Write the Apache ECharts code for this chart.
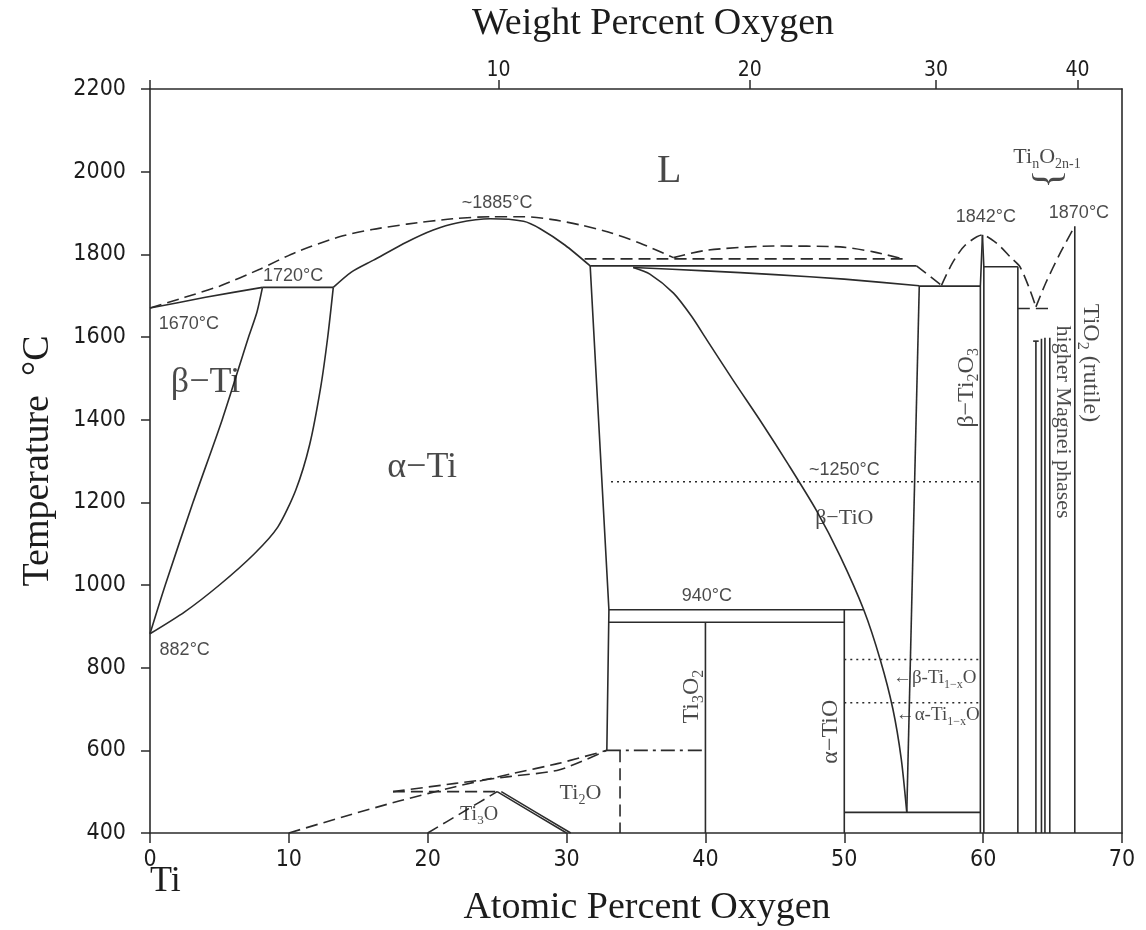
<!DOCTYPE html>
<html>
<head>
<meta charset="utf-8">
<script src="https://cdn.jsdelivr.net/npm/echarts@6/dist/echarts.min.js"></script>
<style>
  html, body { margin: 0; padding: 0; background: #fff; }
  #chart { width: 1146px; height: 930px; }
</style>
</head>
<body>
<div id="chart"></div>
<script>
// all points: [atomic % O, temperature °C]
const betaSolidus = [[0, 1670], [2, 1683], [4, 1696], [6, 1708], [8.1, 1720]];
const liquidusTi = [[0, 1670], [2.5, 1696], [5, 1723], [7.9, 1764], [10.5, 1805], [13.7, 1843], [16, 1860], [18.5, 1873], [21.8, 1886], [24.5, 1891], [27, 1891], [29, 1884], [31, 1871], [33, 1854], [35.3, 1827], [37.7, 1792]];
const peritectic1720 = [[8.1, 1720], [13.2, 1720]];
const betaTransus = [[0, 882], [1.1, 1000], [3.1, 1200], [5.2, 1400], [7.1, 1600], [7.7, 1660], [8.1, 1720]];
const alphaTransus = [[0, 882], [2.5, 935], [5, 1000], [7.5, 1075], [9.2, 1140], [10.5, 1230], [11.5, 1340], [12.3, 1480], [12.8, 1600], [13.2, 1720]];
const alphaSolidus = [[13.2, 1720], [14.5, 1757], [16.1, 1786], [18.5, 1830], [20.4, 1859], [22.1, 1876], [24.5, 1886], [26.9, 1880], [28.1, 1862], [29.9, 1822], [31.7, 1772]];
const alphaSolvus = [[31.7, 1772], [33.05, 940], [32.9, 600]];
const peritectic1770 = [[31.7, 1772], [55.2, 1772]];
const monotectic1790 = [[31.3, 1789], [54.2, 1789]];
const gapDome = [[37.7, 1792], [40.1, 1810], [44.9, 1820], [49.7, 1818], [52.1, 1806], [54.2, 1789]];
const betaTiOSolidus = [[34.8, 1768], [40, 1760], [45, 1751], [50, 1740], [55.4, 1724]];
const betaTiOLeft = [[34.8, 1768], [36, 1752], [37.7, 1706], [39, 1650], [40.1, 1593], [42, 1495], [44, 1395], [46, 1290], [48, 1180], [49.7, 1070], [51.4, 940], [52.6, 818], [53.5, 700], [54.1, 580], [54.5, 450]];
const betaTiORight = [[55.4, 1724], [54.5, 450]];
const liquidusMid = [[55.2, 1772], [57.0, 1725]];
const eutectic1723 = [[55.4, 1723], [59.8, 1723]];
const ti2o3Left = [[59.8, 400], [59.8, 1723], [59.95, 1847]];
const ti2o3Right = [[60.05, 400], [60.05, 1770], [59.95, 1847]];
const liquidusTi2O3 = [[57.0, 1725], [57.8, 1780], [58.7, 1822], [59.95, 1847], [61, 1826], [62, 1792], [62.65, 1770], [63.3, 1720], [63.8, 1673]];
const liquidusTiO2 = [[63.8, 1673], [64.5, 1730], [65.5, 1800], [66.6, 1868]];
const peritectic1770R = [[60.05, 1770], [62.5, 1770]];
const phase625 = [[62.5, 1770], [62.5, 400]];
const eutectic1670 = [[62.5, 1669], [65.0, 1669]];
const magneliA = [[63.8, 1590], [63.8, 400]];
const magneliCap = [[63.6, 1590], [64.0, 1590]];
const magneliB = [[64.2, 1596], [64.2, 400]];
const magneliC = [[64.45, 1598], [64.45, 400]];
const magneliD = [[64.8, 1598], [64.8, 400]];
const rutile = [[66.6, 1868], [66.6, 400]];
const plateau940 = [[33.05, 940], [51.4, 940]];
const plateau910 = [[33.05, 910], [50, 910]];
const ti3o2Line = [[40, 910], [40, 400]];
const alphaTiOLine = [[50, 940], [50, 400]];
const eutectoid450 = [[50, 450], [59.8, 450]];
const order600 = [[32.9, 600], [40, 600]];
const ti2oBound = [[33.85, 600], [33.85, 400]];
const orderUpper = [[10, 400], [14, 440], [18, 478], [22, 512], [26, 543], [29.5, 569], [32.9, 600]];
const orderLower = [[17.5, 500], [22, 520], [26, 537], [29.5, 553], [32.9, 600]];
const order500 = [[17.5, 500], [25, 500]];
const ti3oLeft = [[20, 400], [22.5, 450], [25, 500]];
const ti3oRight = [[25, 500], [27.5, 450], [30, 400]];
const ti3oRight2 = [[25.3, 500], [27.8, 450], [30.3, 400]];
const dotted1250 = [[33.2, 1250], [59.8, 1250]];
const dotted820 = [[50, 820], [59.8, 820]];
const dotted715 = [[50, 715], [59.8, 715]];

// top axis: weight % O ticks placed at their atomic % position
const wtTickPos = [25.1, 43.2, 56.6, 66.8];
const wtTickLabels = ['10', '20', '30', '40'];

// annotations: [text, at% O, T, kind]
const notes = [
  ['L', 37.4, 2000, 'big'],
  ['β−Ti', 4.0, 1489, 'phase'],
  ['α−Ti', 19.6, 1285, 'phase'],
  ['β−TiO', 50, 1162, 'small'],
  ['Ti_{3}O_{2}', 39.0, 730, 'vert'],
  ['α−TiO', 49.0, 645, 'vert'],
  ['Ti_{2}O', 31.0, 497, 'small'],
  ['Ti_{3}O', 23.7, 445, 'tiny'],
  ['β−Ti_{2}O_{3}', 58.8, 1477, 'vert'],
  ['TiO_{2} (rutile)', 67.7, 1537, 'vertDown'],
  ['higher Magnei phases', 65.7, 1394, 'vertDownSmall'],
  ['Ti_{n}O_{2n-1}', 64.6, 2035, 'small'],
  ['}', 64.6, 1982, 'brace'],
  ['1670°C', 2.8, 1631, 'temp'],
  ['1720°C', 10.3, 1748, 'temp'],
  ['~1885°C', 25.0, 1923, 'temp'],
  ['882°C', 2.5, 843, 'temp'],
  ['940°C', 40.1, 973, 'temp'],
  ['~1250°C', 50, 1278, 'temp'],
  ['1842°C', 60.2, 1891, 'temp'],
  ['1870°C', 66.9, 1899, 'temp'],
  ['←β-Ti_{1−x}O', 53.5, 775, 'arrow'],
  ['←α-Ti_{1−x}O', 53.7, 685, 'arrow']
];

const curves = [
  [betaSolidus, 'solid'], [liquidusTi, 'dash'], [peritectic1720, 'solid'],
  [betaTransus, 'curve'], [alphaTransus, 'curve'], [alphaSolidus, 'curve'],
  [alphaSolvus, 'solid'], [peritectic1770, 'solid'], [monotectic1790, 'dash'],
  [gapDome, 'dash'], [betaTiOSolidus, 'curve'], [betaTiOLeft, 'curve'],
  [betaTiORight, 'solid'], [liquidusMid, 'dash'], [eutectic1723, 'solid'],
  [ti2o3Left, 'solid'], [ti2o3Right, 'solid'], [liquidusTi2O3, 'dash'],
  [liquidusTiO2, 'dash'], [peritectic1770R, 'solid'], [phase625, 'solid'],
  [eutectic1670, 'dash'], [magneliA, 'solid'], [magneliCap, 'solid'],
  [magneliB, 'solid'], [magneliC, 'solid'], [magneliD, 'solid'], [rutile, 'solid'],
  [plateau940, 'solid'], [plateau910, 'solid'], [ti3o2Line, 'solid'],
  [alphaTiOLine, 'solid'], [eutectoid450, 'solid'], [order600, 'dashdot'],
  [ti2oBound, 'dash'], [orderUpper, 'dash'], [orderLower, 'dash'], [order500, 'dash'],
  [ti3oLeft, 'dash'], [ti3oRight, 'solid'], [ti3oRight2, 'solid'],
  [dotted1250, 'dot'], [dotted820, 'dot'], [dotted715, 'dot']
];

const INK = '#2b2b2b';
const TEXT = '#1c1c1c';
const SERIF = "'Liberation Serif', 'DejaVu Serif', serif";
const SANS = "'Liberation Sans', Arial, sans-serif";
const NARROW = "'Liberation Sans Narrow', 'DejaVu Sans Condensed', sans-serif";

const dashTypes = {
  solid: 'solid',
  curve: 'solid',
  dash: [12, 6],
  dot: [2, 4],
  dashdot: [14, 5, 3, 5]
};

const noteStyles = {
  big: { size: 40, font: SERIF, rotate: 0 },
  phase: { size: 36, font: SERIF, rotate: 0 },
  small: { size: 22, font: SERIF, rotate: 0 },
  tiny: { size: 20, font: SERIF, rotate: 0 },
  vert: { size: 24, font: SERIF, rotate: 90 },
  vertDown: { size: 24, font: SERIF, rotate: -90 },
  vertDownSmall: { size: 22, font: SERIF, rotate: -90 },
  brace: { size: 40, font: SERIF, rotate: -90 },
  temp: { size: 18, font: SANS, rotate: 0 },
  arrow: { size: 19, font: SERIF, rotate: 0, left: true }
};

// turn "Ti_{3}O" into rich text tokens
function toRich(text) {
  return text.split(/(_\{[^}]*\})/).filter(Boolean).map(function (part) {
    if (part.indexOf('_{') === 0) return '{s|' + part.slice(2, -1) + '}';
    return '{n|' + part + '}';
  }).join('');
}

function noteItem(n) {
  const st = noteStyles[n[3]];
  const lh = Math.round(st.size * 1.3);
  return {
    value: [n[1], n[2]],
    label: {
      show: true,
      position: [0, 0],
      align: st.left ? 'left' : 'center',
      verticalAlign: 'middle',
      rotate: st.rotate,
      formatter: n[3] === 'brace' ? n[0] : toRich(n[0]),
      color: TEXT,
      fontFamily: st.font,
      fontSize: st.size,
      rich: {
        n: { fontFamily: st.font, fontSize: st.size, lineHeight: lh, verticalAlign: 'middle', color: TEXT },
        s: { fontFamily: st.font, fontSize: Math.round(st.size * 0.65), lineHeight: Math.round(st.size * 0.65), verticalAlign: 'bottom', color: TEXT }
      }
    }
  };
}

const series = curves.map(function (c) {
  return {
    type: 'line',
    data: c[0],
    showSymbol: false,
    symbol: 'none',
    smooth: c[1] === 'curve' || c[1] === 'dash' ? 0.25 : false,
    clip: false,
    silent: true,
    lineStyle: { color: INK, width: c[1] === 'dot' ? 1.5 : 1.6, type: dashTypes[c[1]] },
    z: 2
  };
});

series.push({
  type: 'scatter',
  data: notes.map(noteItem),
  symbolSize: 0,
  clip: false,
  silent: true,
  itemStyle: { color: 'transparent' },
  z: 5
});

const axisLine = { show: true, onZero: false, lineStyle: { color: INK, width: 1.6 } };
const plainNumber = function (v) { return String(v); };

const option = {
  backgroundColor: '#fff',
  animation: false,
  grid: { left: 150, right: 24, top: 89, bottom: 97, containLabel: false, outerBoundsMode: 'none' },
  xAxis: [
    {
      type: 'value', min: 0, max: 70, interval: 10, position: 'bottom',
      axisLine: axisLine,
      axisTick: { show: true, inside: false, length: 10, lineStyle: { color: INK, width: 1.5 } },
      axisLabel: { margin: 16, fontFamily: NARROW, fontSize: 23, color: TEXT, formatter: plainNumber },
      splitLine: { show: false },
      name: 'Atomic Percent Oxygen', nameLocation: 'middle', nameGap: 56,
      nameTextStyle: { fontFamily: SERIF, fontSize: 38, color: TEXT, padding: [0, 0, 0, 22] }
    },
    {
      type: 'value', min: 0, max: 70, position: 'top',
      axisLine: axisLine,
      axisTick: { show: true, length: 9, customValues: [0].concat(wtTickPos), lineStyle: { color: INK, width: 1.5 } },
      axisLabel: {
        margin: 8, fontFamily: NARROW, fontSize: 21, color: TEXT,
        customValues: wtTickPos,
        formatter: function (v) {
          const i = wtTickPos.indexOf(v);
          return i >= 0 ? wtTickLabels[i] : '';
        }
      },
      splitLine: { show: false },
      name: 'Weight Percent Oxygen', nameLocation: 'middle', nameGap: 46,
      nameTextStyle: { fontFamily: SERIF, fontSize: 38, color: TEXT, padding: [0, 0, 0, 34] }
    }
  ],
  yAxis: [
    {
      type: 'value', min: 400, max: 2200, interval: 200, position: 'left',
      axisLine: axisLine,
      axisTick: { show: true, length: 9, lineStyle: { color: INK, width: 1.5 } },
      axisLabel: { margin: 24, fontFamily: NARROW, fontSize: 23, color: TEXT, formatter: plainNumber },
      splitLine: { show: false },
      name: 'Temperature  °C', nameLocation: 'middle', nameGap: 93, nameRotate: 90,
      nameTextStyle: { fontFamily: SERIF, fontSize: 38, color: TEXT }
    },
    {
      type: 'value', min: 400, max: 2200, position: 'right',
      axisLine: axisLine,
      axisTick: { show: false },
      axisLabel: { show: false },
      splitLine: { show: false }
    }
  ],
  graphic: [
    {
      type: 'text', left: 150, top: 864,
      style: { text: 'Ti', fontFamily: SERIF, fontSize: 36, fill: TEXT }
    }
  ],
  series: series
};

const chart = echarts.init(document.getElementById('chart'), null, { renderer: 'canvas' });
chart.setOption(option);
window.addEventListener('resize', function () { chart.resize(); });
</script>
</body>
</html>
